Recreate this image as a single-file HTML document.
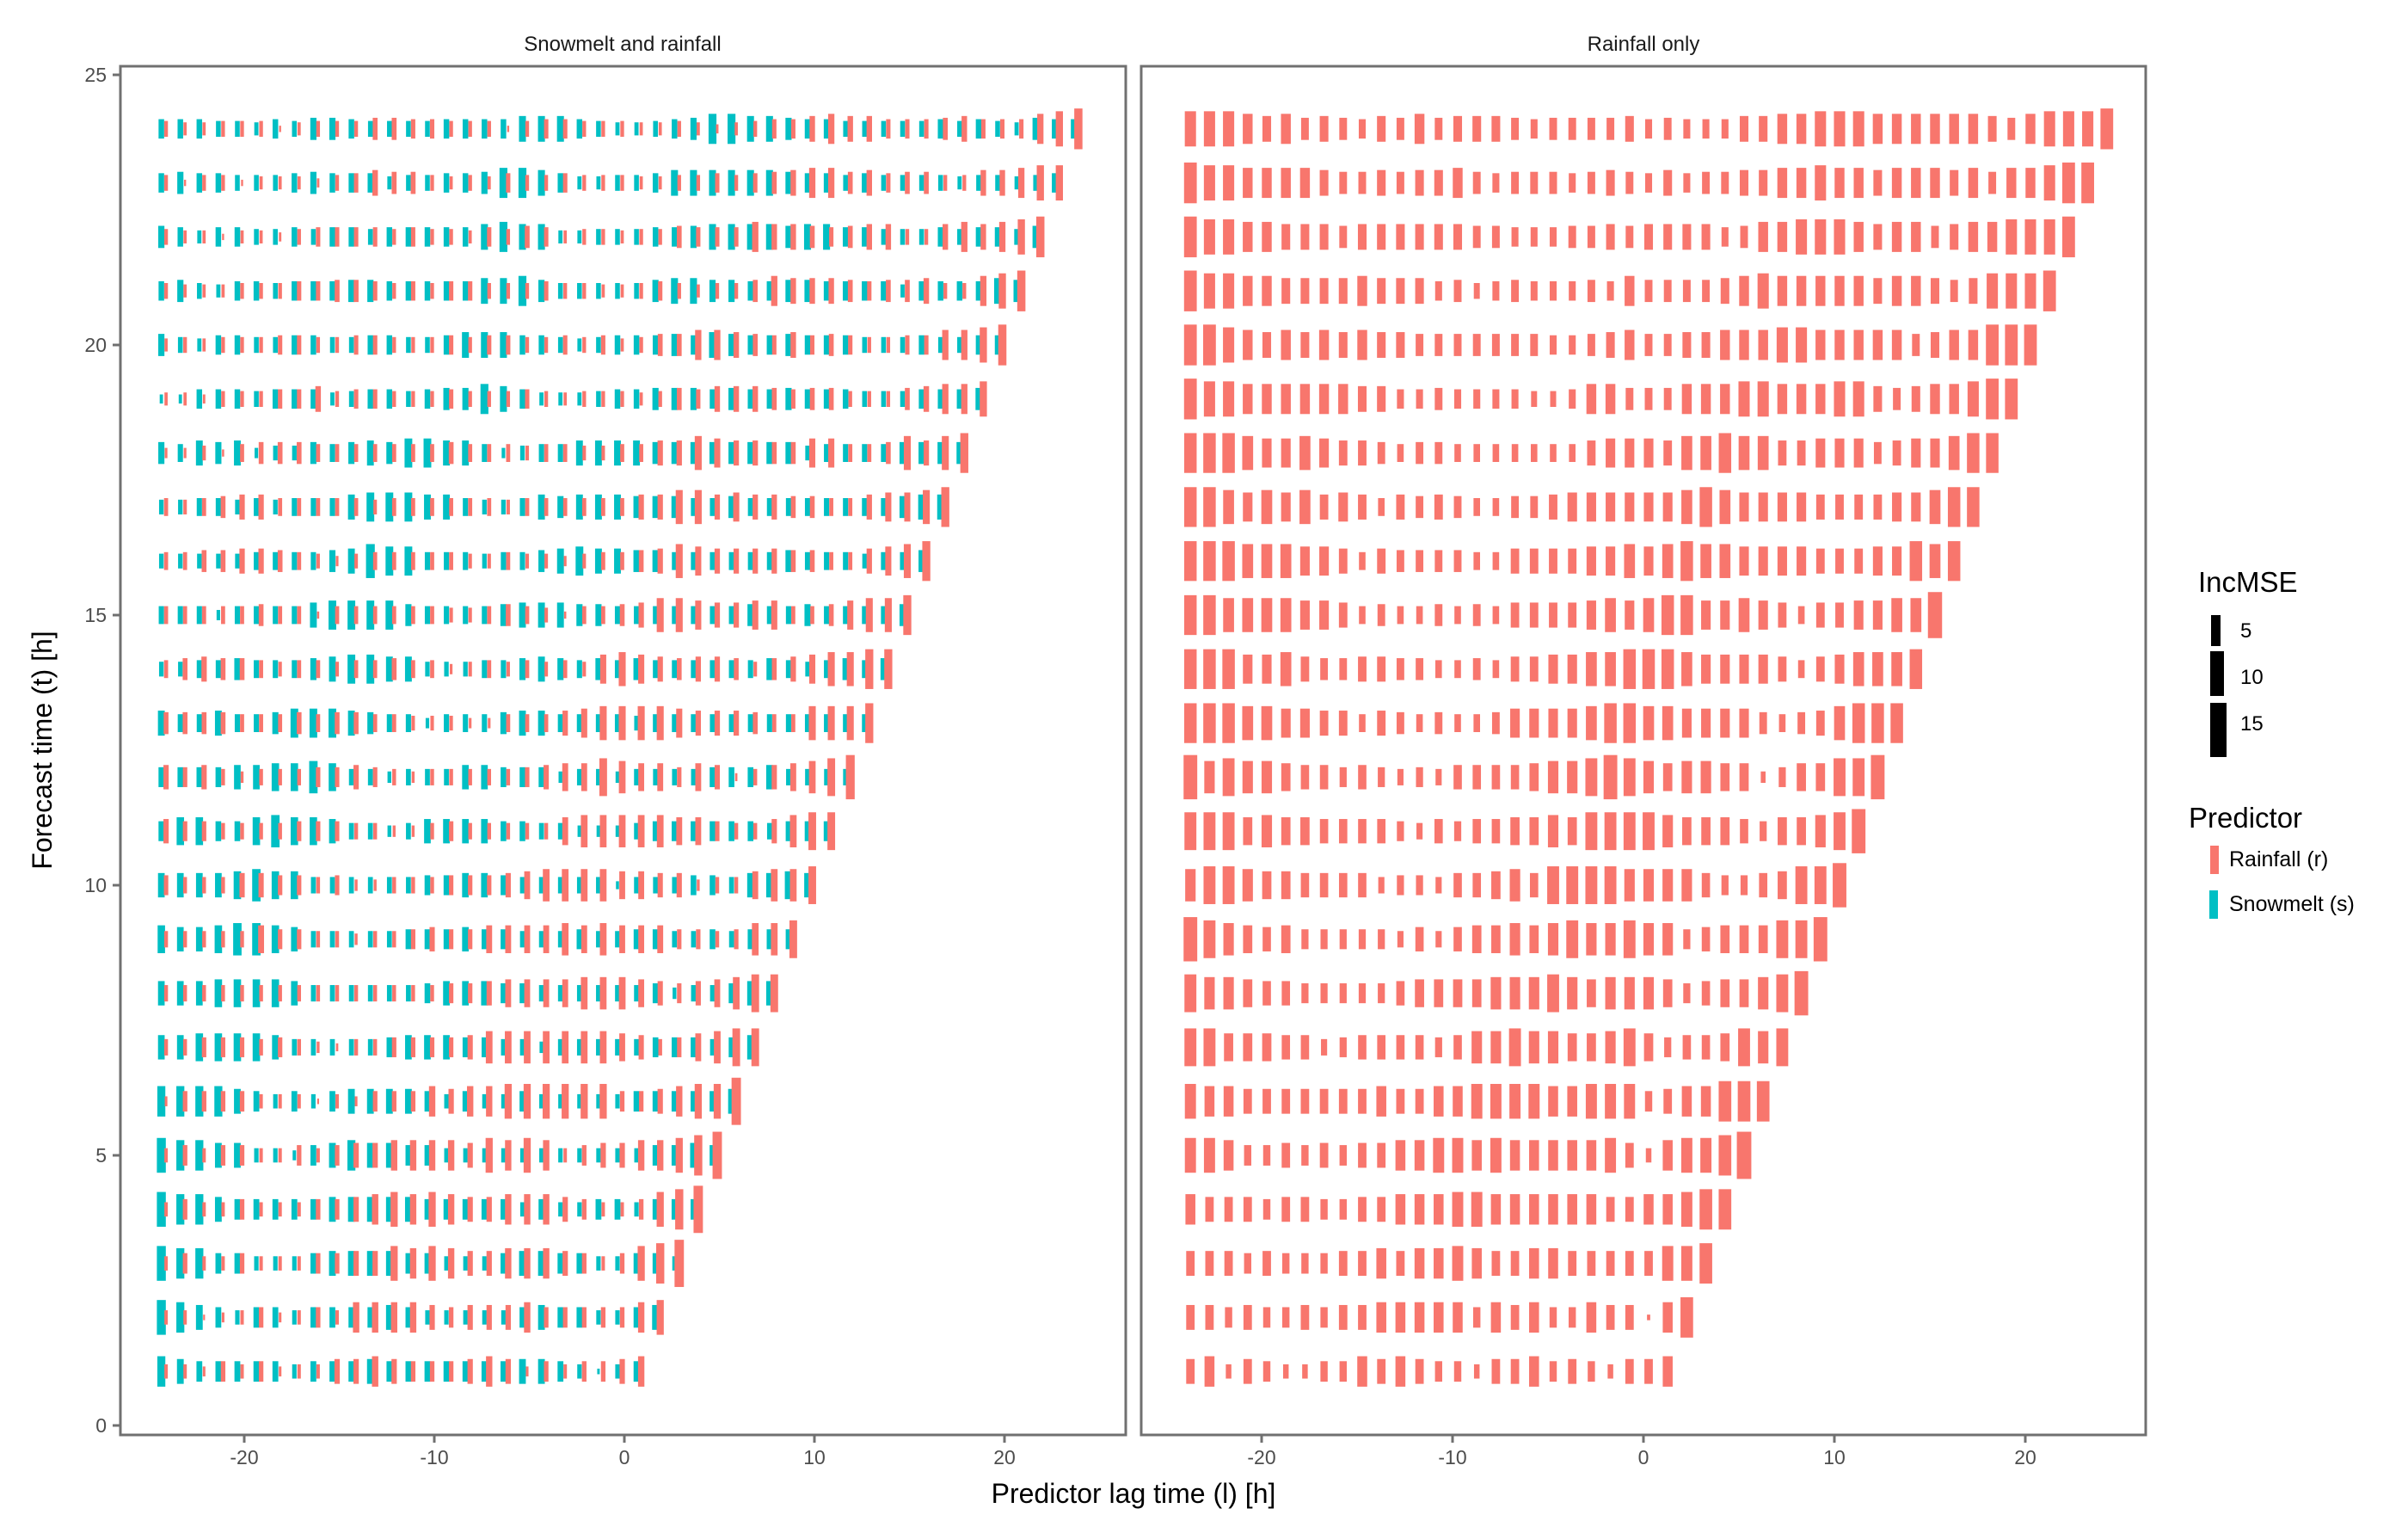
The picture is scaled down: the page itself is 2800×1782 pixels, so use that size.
<!DOCTYPE html>
<html><head><meta charset="utf-8"><title>IncMSE by lag and forecast time</title>
<style>
html,body{margin:0;padding:0;background:#fff;}
svg{display:block;font-family:"Liberation Sans","DejaVu Sans",sans-serif;}
</style></head>
<body>
<svg id="chart" xmlns="http://www.w3.org/2000/svg" width="2800" height="1782" viewBox="0 0 2800 1782">
  <rect x="0" y="0" width="2800" height="1782" fill="#fff"/>
  <g id="marks-left"></g>
  <g id="marks-right"></g>
  <rect x="140" y="77" width="1169" height="1591" fill="none" stroke="#707070" stroke-width="3"/>
  <rect x="1327" y="77" width="1168" height="1591" fill="none" stroke="#707070" stroke-width="3"/>
  <text x="724" y="59" font-size="24" text-anchor="middle" fill="#1a1a1a">Snowmelt and rainfall</text>
  <text x="1911" y="59" font-size="24" text-anchor="middle" fill="#1a1a1a">Rainfall only</text>
  <g id="axes"></g>
  <text x="1318" y="1747" font-size="32" text-anchor="middle" fill="#000">Predictor lag time (l) [h]</text>
  <text x="0" y="0" font-size="32" text-anchor="middle" fill="#000" transform="translate(60,872) rotate(-90)">Forecast time (t) [h]</text>
  <g>
    <text x="2556" y="688" font-size="33" fill="#000">IncMSE</text>
    <rect x="2571" y="715" width="11" height="36" fill="#000"/>
    <text x="2605" y="741" font-size="24" fill="#000">5</text>
    <rect x="2570" y="757" width="16" height="52" fill="#000"/>
    <text x="2605" y="795" font-size="24" fill="#000">10</text>
    <rect x="2570" y="817" width="19" height="63" fill="#000"/>
    <text x="2605" y="849" font-size="24" fill="#000">15</text>
    <text x="2545" y="962" font-size="33" fill="#000">Predictor</text>
    <rect x="2570" y="983" width="10" height="33" fill="#F8766D"/>
    <text x="2592" y="1007" font-size="25" fill="#000">Rainfall (r)</text>
    <rect x="2569" y="1035" width="10" height="33" fill="#00BFC4"/>
    <text x="2592" y="1059" font-size="25" fill="#000">Snowmelt (s)</text>
  </g>
</svg>
<script>
// ---- data (size codes; row index 0 = t 24 ... row 23 = t 1) ----
const forecastTimes = [24,23,22,21,20,19,18,17,16,15,14,13,12,11,10,9,8,7,6,5,4,3,2,1];
const xTicks = [-20,-10,0,10,20];
const yTicks = [0,5,10,15,20,25];
const sizeCodeHeight = [9,16,23,33,40,49,56,65,76,89,103];
const rowReadScale = [0.46,0.46,0.46,0.46,0.46,0.46,0.52,0.52,0.52,0.52,0.52,0.52,0.578,0.578,0.578,0.578,0.578,0.578,0.722,0.722,0.722,0.722,0.722,0.722];
const leftSnowmelt = [
"5 5 5 4 4 3 5 4 6 6 5 4 4 4 4 5 5 5 5 7 7 7 5 4 3 3 4 5 6 8 8 7 7 6 5 5 4 4 4 4 4 5 4 5 4 3 6 5 5",
"5 6 5 5 4 4 4 5 6 5 5 5 3 4 4 5 5 6 8 8 7 5 3 3 4 4 5 7 7 7 7 7 7 6 5 5 4 5 4 4 4 4 3 4 4 3 4 5",
"6 5 3 5 5 4 4 5 4 5 5 4 5 5 5 5 5 7 8 7 7 3 3 4 4 4 5 5 6 7 7 7 7 6 7 7 5 5 4 4 4 5 4 5 5 4 6",
"5 6 4 3 5 5 4 5 5 5 6 6 5 5 5 5 5 7 7 8 6 4 4 4 4 4 6 7 7 6 6 5 5 6 6 5 5 5 5 3 5 5 5 5 7 6",
"6 4 3 5 5 4 4 5 5 4 4 5 5 4 4 5 7 7 7 5 5 4 3 4 5 5 5 6 5 7 6 5 5 6 5 5 5 4 4 4 5 4 4 5 5",
"2 2 5 5 5 4 5 5 5 3 4 5 5 4 5 6 6 8 7 5 3 3 3 4 5 5 6 6 6 5 6 5 5 6 5 5 5 4 4 4 5 5 5 6",
"5 4 6 5 6 2 3 3 5 4 5 6 5 7 7 6 6 4 2 3 4 4 6 6 6 6 5 5 5 5 5 5 5 5 3 4 4 4 4 5 5 5 5",
"3 3 4 4 3 4 3 4 4 4 6 7 7 7 6 6 4 3 3 4 6 5 6 6 6 5 5 5 4 4 5 4 4 4 4 4 4 4 4 5 6 6",
"3 3 3 3 3 4 4 4 4 5 6 8 7 7 4 4 4 3 4 4 5 6 7 6 6 5 5 4 4 4 4 4 4 5 4 4 4 3 4 4 5",
"4 4 4 2 4 4 4 4 6 7 7 7 7 5 4 4 4 4 5 6 6 6 5 5 4 4 4 4 4 4 4 5 4 4 5 4 4 4 4 5",
"3 3 4 4 5 4 4 4 5 6 7 7 6 6 3 3 3 4 4 5 6 5 4 5 4 5 4 4 4 4 4 4 5 4 3 4 5 4 5",
"6 4 4 6 4 4 5 7 7 7 6 5 4 4 2 4 4 4 5 6 6 4 4 4 4 3 4 4 4 4 4 4 4 4 4 4 4 4",
"4 4 4 4 5 5 6 6 7 6 3 3 2 3 3 3 5 5 4 4 4 2 3 3 2 3 3 3 3 4 4 4 5 3 3 3 3",
"4 6 6 4 4 6 7 6 6 5 3 3 2 3 5 5 5 5 4 4 3 3 2 2 2 3 4 4 4 4 4 4 3 4 4 4",
"5 5 5 5 6 7 6 6 3 3 3 3 3 3 4 4 5 5 4 3 3 3 3 3 1 3 3 3 4 4 3 5 5 6 5",
"6 5 5 6 7 7 6 5 3 3 3 3 3 4 4 4 5 4 4 3 3 3 4 3 3 4 4 3 3 4 3 4 4 4",
"5 5 5 6 6 6 6 5 3 3 3 3 3 3 4 5 5 5 4 4 3 3 3 3 3 3 4 2 3 3 4 5 5",
"5 5 6 6 6 6 5 3 3 3 3 3 4 5 5 5 4 4 3 3 2 3 3 3 3 3 4 4 4 3 4 5",
"5 5 5 5 4 3 2 3 2 3 4 4 4 4 3 2 3 2 2 3 2 2 2 2 2 3 3 3 3 3 4",
"6 5 5 4 4 2 2 1 3 4 5 4 4 3 3 2 2 2 2 2 2 2 2 2 2 2 3 3 4 3",
"6 5 5 4 3 3 3 3 3 4 4 4 4 4 3 3 3 3 3 2 3 2 2 3 3 2 3 3 3",
"6 5 5 3 3 2 2 2 3 4 4 4 4 3 3 2 2 2 3 4 4 3 3 2 2 3 3 2",
"6 5 4 3 2 3 3 2 3 3 3 3 4 3 2 2 2 2 2 3 4 3 3 2 2 3 4",
"5 4 3 3 3 3 3 2 3 3 3 4 3 3 3 3 3 3 3 4 4 3 2 0 2 3"
];
const leftRainfall = [
"4 3 3 4 4 4 1 3 4 4 4 6 6 5 5 4 4 4 1 4 5 5 4 4 4 3 3 4 3 2 3 4 5 5 7 8 7 7 5 5 5 6 7 5 5 5 8 9 a",
"4 1 4 4 1 3 3 3 2 4 5 7 6 6 4 3 4 3 5 4 4 5 4 4 4 3 3 4 4 5 4 5 6 7 8 8 6 7 5 6 6 4 4 7 7 8 9 9",
"4 3 3 1 3 3 2 4 5 5 5 5 4 5 4 4 3 5 4 6 5 3 4 4 3 4 4 6 5 5 5 8 7 7 6 5 6 7 7 4 4 7 8 7 8 9 a",
"4 3 3 3 4 4 4 5 5 6 6 5 4 5 4 5 5 4 4 4 5 4 4 3 3 4 5 4 3 4 4 6 8 7 7 7 6 5 6 6 7 4 4 8 9 a",
"3 4 3 4 4 4 5 5 4 4 5 5 4 4 4 5 4 5 5 4 4 5 4 5 3 4 6 6 8 8 7 6 5 7 5 6 5 4 4 5 5 8 8 9 a",
"3 3 2 4 4 4 5 5 7 4 5 5 4 4 4 5 4 4 4 5 4 3 4 4 4 3 4 6 5 7 7 7 6 5 6 6 4 4 4 6 7 8 8 9",
"2 2 3 1 4 5 5 5 4 4 4 4 4 4 4 5 4 4 4 3 4 4 3 3 4 4 6 6 8 7 6 6 5 5 7 7 4 4 5 8 6 8 9",
"4 3 4 5 6 6 4 4 4 4 4 3 4 4 4 4 4 4 3 4 4 4 4 4 4 6 6 8 8 6 7 6 6 5 5 4 4 6 7 7 8 9",
"4 4 5 5 6 6 5 4 3 2 3 4 4 4 4 4 3 3 4 3 3 2 3 4 4 5 6 8 7 6 6 6 6 5 5 4 4 6 7 8 9",
"4 4 4 4 4 5 4 4 1 4 4 4 4 4 4 3 3 4 5 4 3 1 4 4 5 6 8 8 7 6 6 7 7 4 4 5 7 8 8 9",
"4 5 6 5 5 4 3 4 4 3 4 4 5 4 4 2 3 4 3 4 3 4 3 7 8 7 6 5 6 6 5 3 5 6 7 8 8 9 9",
"5 5 5 5 4 4 4 5 4 5 5 4 4 3 3 3 2 2 4 4 4 6 7 8 8 8 8 7 6 6 6 5 4 4 8 8 8 9",
"5 4 5 3 2 3 3 3 4 4 5 4 3 2 3 3 3 3 3 4 5 6 6 8 7 6 6 4 6 5 1 3 5 6 7 8 9",
"5 4 4 3 3 3 3 4 4 4 3 3 2 2 3 4 3 3 3 3 3 6 7 7 7 7 7 6 6 4 3 3 5 7 8 8",
"4 3 3 3 5 5 4 4 3 4 2 2 3 3 3 4 4 4 5 6 7 7 7 7 6 6 5 5 2 3 3 6 7 7 8",
"3 3 3 3 3 6 4 4 3 3 2 3 3 4 5 4 4 6 6 6 6 7 6 7 6 6 6 4 4 3 4 7 7 8",
"3 3 3 3 3 3 3 3 3 3 3 3 3 3 3 4 4 5 6 6 6 6 7 7 7 6 5 4 5 6 7 8 8",
"3 3 4 4 4 3 4 3 2 1 3 3 4 4 4 4 5 7 7 7 7 7 7 7 6 5 3 4 6 7 8 8",
"1 3 3 3 3 2 2 2 0 2 1 3 3 3 5 4 5 5 6 6 6 6 6 6 3 3 4 5 6 6 8",
"2 3 2 3 3 2 2 3 2 3 4 4 5 5 5 5 4 6 5 6 5 2 3 4 4 5 5 6 7 8",
"2 3 2 2 3 2 2 2 3 3 4 5 6 5 6 5 4 4 5 5 5 4 3 2 2 3 6 7 8",
"2 3 2 2 3 2 2 2 3 3 4 4 6 5 6 5 4 4 5 5 5 4 3 2 3 6 7 8",
"2 2 0 1 2 3 1 2 3 2 5 5 5 5 4 3 4 4 4 5 3 3 3 3 3 5 6",
"2 2 1 3 2 3 1 2 2 4 4 5 4 3 3 3 4 5 4 1 3 2 3 3 4 5"
];
const rightRainfall = [
"9 9 9 8 7 8 6 7 6 5 7 6 8 6 7 7 7 6 5 6 6 6 6 7 5 6 5 5 5 7 7 8 8 9 9 9 8 8 8 8 8 8 7 6 8 9 9 9 a",
"a 9 9 8 8 8 8 7 6 6 7 6 7 7 8 6 5 6 6 6 5 6 7 6 5 7 5 6 6 7 7 8 8 9 8 8 7 8 8 8 7 8 6 8 8 9 a a",
"a 9 9 8 8 7 7 7 6 7 7 7 7 7 7 6 6 5 5 5 6 6 7 6 7 7 7 7 5 6 8 8 9 9 9 8 7 8 8 6 7 8 8 9 9 9 a",
"a 9 9 8 8 7 7 7 7 8 7 7 7 5 6 4 5 6 5 5 5 6 5 8 6 6 6 6 7 8 9 8 8 8 8 8 7 8 8 7 6 7 9 9 9 a",
"a a 9 8 7 8 7 8 7 8 7 7 6 6 6 6 6 6 6 5 5 6 7 8 6 6 7 7 8 8 8 9 9 8 8 8 8 8 6 7 8 8 a a a",
"a 9 9 8 8 8 8 8 8 7 7 5 5 6 5 5 5 5 4 4 5 8 8 6 6 6 8 8 8 9 9 8 8 8 9 9 7 6 7 8 8 9 a a",
"9 9 9 8 7 7 8 7 6 6 5 4 5 5 4 4 4 4 4 4 4 6 7 7 7 6 8 8 9 8 8 6 6 7 7 7 5 6 7 7 8 9 9",
"9 9 8 7 8 7 8 6 7 6 4 6 5 6 5 4 4 5 5 6 7 7 7 7 7 7 8 9 8 7 7 7 7 6 6 6 6 7 7 8 9 9",
"9 9 9 8 8 8 7 7 6 4 6 5 5 5 5 4 4 6 6 6 6 7 7 8 7 8 9 8 8 7 7 7 7 6 6 6 7 7 9 8 9",
"9 9 8 8 8 8 7 7 6 4 5 4 4 5 4 5 4 6 6 6 6 7 8 7 8 9 9 7 7 8 7 6 4 6 6 7 7 8 8 a",
"9 9 9 7 7 8 6 5 5 6 6 5 5 4 4 5 4 6 6 7 7 8 8 9 9 9 8 7 7 7 7 6 4 6 7 8 8 8 9",
"9 9 9 8 8 7 7 6 6 4 6 5 4 5 4 4 5 7 7 7 7 8 9 9 8 8 7 7 7 7 5 4 5 6 8 9 9 9",
"9 7 8 7 7 6 5 5 4 5 4 3 4 3 5 5 5 5 6 7 7 8 9 8 7 6 7 7 6 6 2 4 6 6 8 8 9",
"8 8 8 6 7 6 6 5 5 5 5 4 3 5 4 5 5 6 6 7 6 8 8 8 8 7 6 6 6 5 4 6 6 7 8 9",
"7 8 8 7 6 6 5 5 5 5 3 4 4 3 5 5 6 7 5 8 8 8 8 7 7 7 7 5 4 4 5 6 8 8 9",
"9 8 7 6 5 6 4 4 4 4 4 3 5 3 5 6 6 7 6 7 8 7 7 8 7 7 4 5 6 6 6 8 8 9",
"8 7 7 6 5 5 4 4 4 4 4 5 6 6 6 6 7 7 7 8 7 6 7 7 7 6 4 5 6 6 7 8 9",
"8 8 6 6 6 5 5 3 4 5 5 5 5 4 5 7 7 8 7 7 6 6 7 8 6 4 5 5 6 8 7 8",
"6 5 5 4 4 4 4 4 4 4 5 4 4 5 5 6 6 6 6 5 5 6 6 6 3 4 5 5 7 7 7",
"6 6 5 3 3 4 3 4 3 4 4 5 5 6 6 5 6 5 5 5 5 5 6 4 2 5 6 6 7 8",
"5 4 4 4 3 4 4 3 3 4 4 5 5 5 6 6 5 5 5 5 5 5 4 4 5 5 6 7 7",
"4 4 4 3 4 3 3 3 4 4 5 4 5 5 6 5 4 4 5 5 4 4 4 4 4 6 6 7",
"4 4 3 4 3 3 4 3 4 4 5 5 5 5 5 3 5 4 5 3 3 5 4 4 0 5 7",
"4 5 2 4 3 2 2 3 3 5 4 5 4 3 3 2 4 4 5 3 4 3 2 4 4 5"
];

// ---- scales ----
const NS = "http://www.w3.org/2000/svg";
const RED = "#F8766D", CYAN = "#00BFC4";
function xLeft(l){ return 726 + 22.1 * l; }
function xRight(l){ return 1911 + 22.2 * l; }
function yScale(t){ return 1657 - 62.8 * t; }
function decode(c){ return c === "a" ? 10 : parseInt(c, 10); }

function addRect(g, cx, cy, w, h, fill, name){
  const r = document.createElementNS(NS, "rect");
  r.setAttribute("x", (cx - w / 2).toFixed(2));
  r.setAttribute("y", (cy - h / 2).toFixed(2));
  r.setAttribute("width", w.toFixed(2));
  r.setAttribute("height", h.toFixed(2));
  r.setAttribute("fill", fill);
  
  
  g.appendChild(r);
}

const gL = document.getElementById("marks-left");
const gR = document.getElementById("marks-right");
forecastTimes.forEach(function(t, i){
  const cy = yScale(t);
  const sc = rowReadScale[i];
  const snow = leftSnowmelt[i].trim().split(/\s+/);
  const rainL = leftRainfall[i].trim().split(/\s+/);
  const rainR = rightRainfall[i].trim().split(/\s+/);
  const nLag = t + 25;
  for (let k = 0; k < nLag; k++){
    const lag = -24 + k;
    if (k < snow.length){
      const h = sizeCodeHeight[decode(snow[k])] * sc;
      addRect(gL, xLeft(lag) - 8, cy, 0.22 * h + 1.5, h, CYAN, "snowmelt-mark");
    }
    if (k < rainL.length){
      const h = sizeCodeHeight[decode(rainL[k])] * sc;
      addRect(gL, xLeft(lag) - 2.5, cy, 0.18 * h + 1, h, RED, "rainfall-mark-left");
    }
    if (k < rainR.length){
      const h = sizeCodeHeight[decode(rainR[k])] * sc;
      addRect(gR, xRight(lag) + 6, cy, 0.27 * h + 2, h, RED, "rainfall-mark-right");
    }
  }
});

// ---- axes ----
const gA = document.getElementById("axes");
function addLine(x1, y1, x2, y2, name){
  const l = document.createElementNS(NS, "line");
  l.setAttribute("x1", x1); l.setAttribute("y1", y1);
  l.setAttribute("x2", x2); l.setAttribute("y2", y2);
  l.setAttribute("stroke", "#707070"); l.setAttribute("stroke-width", "3");
  
  
  gA.appendChild(l);
}
function addText(x, y, s, anchor, name){
  const tx = document.createElementNS(NS, "text");
  tx.setAttribute("x", x); tx.setAttribute("y", y);
  tx.setAttribute("font-size", "23"); tx.setAttribute("fill", "#4d4d4d");
  tx.setAttribute("text-anchor", anchor);
  tx.textContent = s;
  
  
  gA.appendChild(tx);
}
yTicks.forEach(function(v){
  const y = yScale(v);
  addLine(131, y, 140, y, "y-tick");
  addText(124, y + 8, String(v), "end", "y-tick-label");
});
xTicks.forEach(function(v){
  const xl = xLeft(v), xr = xRight(v);
  addLine(xl, 1668, xl, 1677, "x-tick-left");
  addLine(xr, 1668, xr, 1677, "x-tick-right");
  addText(xl, 1702, String(v), "middle", "x-tick-label-left");
  addText(xr, 1702, String(v), "middle", "x-tick-label-right");
});
</script>
</body></html>
